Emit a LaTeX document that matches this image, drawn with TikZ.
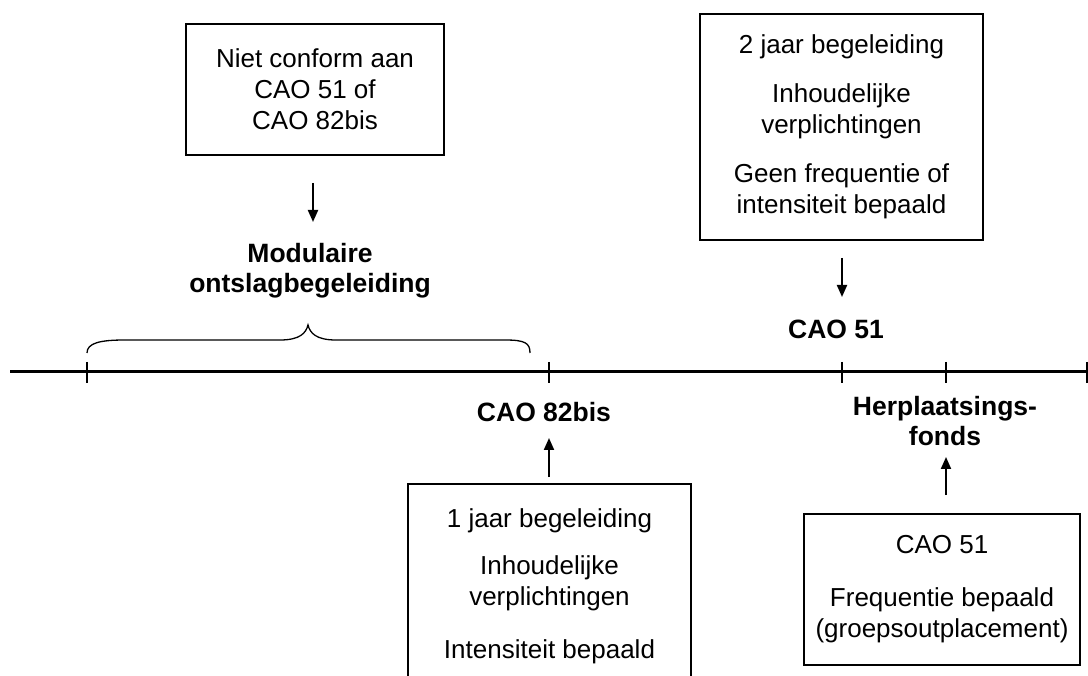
\documentclass[tikz,border=0pt]{standalone}
\usepackage{fontspec}
\setmainfont{Liberation Sans}
\usetikzlibrary{arrows.meta}
\begin{document}
\begin{tikzpicture}[x=1pt,y=-1pt,
  box/.style={draw,line width=1.2pt,align=center,inner sep=0pt,font=\fontsize{26}{31}\selectfont},
  lbl/.style={align=center,inner sep=0pt,font=\fontsize{26.5}{30}\selectfont\bfseries},
  arr/.style={line width=2pt,-{Triangle[length=12pt,width=10pt]}},
  tick/.style={line width=1.3pt}]
\useasboundingbox (0,0) rectangle (1088,676);
\clip (0,0) rectangle (1088,676);
% boxes
\node[box,minimum width=258pt,minimum height=131pt] (b1) at (315,89.5)
  {Niet conform aan\\CAO 51 of\\CAO 82bis};
\node[box,minimum width=283pt,minimum height=226pt] (b2) at (841.5,127)
  {2 jaar begeleiding\\[18pt]Inhoudelijke\\verplichtingen\\[18pt]Geen frequentie of\\intensiteit bepaald};
\node[box,minimum width=283pt,minimum height=204pt] (b3) at (549.5,586)
  {1 jaar begeleiding\\[16pt]Inhoudelijke\\verplichtingen\\[22pt]Intensiteit bepaald};
\node[box,minimum width=276pt,minimum height=151pt] (b4) at (942,589.5)
  {CAO 51\\[22pt]Frequentie bepaald\\(groepsoutplacement)};
% labels
\node[lbl] (mod) at (310,271) {Modulaire\\ontslagbegeleiding};
\node[lbl] (c51) at (836,329) {CAO 51};
\node[lbl] (c82) at (544,412) {CAO 82bis};
\node[lbl] (hf) at (945,421) {Herplaatsings-\\fonds};
% timeline
\coordinate (tl0) at (10,372);
\coordinate (tl1) at (1087,372);
\draw[line width=3pt] (tl0) -- (tl1);
\foreach \x in {87,549,842,946,1087}
  \draw[tick] (\x,362) -- (\x,383);
% brace
\draw[line width=1.3pt] (87,353) .. controls (87,343) and (100,340) .. (125,340)
  -- (280,340) .. controls (300,340) and (306,333) .. (308,325)
  .. controls (310,333) and (316,340) .. (336,340)
  -- (505,340) .. controls (525,340) and (530,343) .. (530,353);
% arrows
\coordinate (a1s) at (313,183); \coordinate (a1e) at (313,222);
\coordinate (a2s) at (842,258); \coordinate (a2e) at (842,297);
\coordinate (a3s) at (549,477); \coordinate (a3e) at (549,438);
\coordinate (a4s) at (946,495); \coordinate (a4e) at (946,457);
\draw[arr] (a1s) -- (a1e);
\draw[arr] (a2s) -- (a2e);
\draw[arr] (a3s) -- (a3e);
\draw[arr] (a4s) -- (a4e);
\end{tikzpicture}
\end{document}
